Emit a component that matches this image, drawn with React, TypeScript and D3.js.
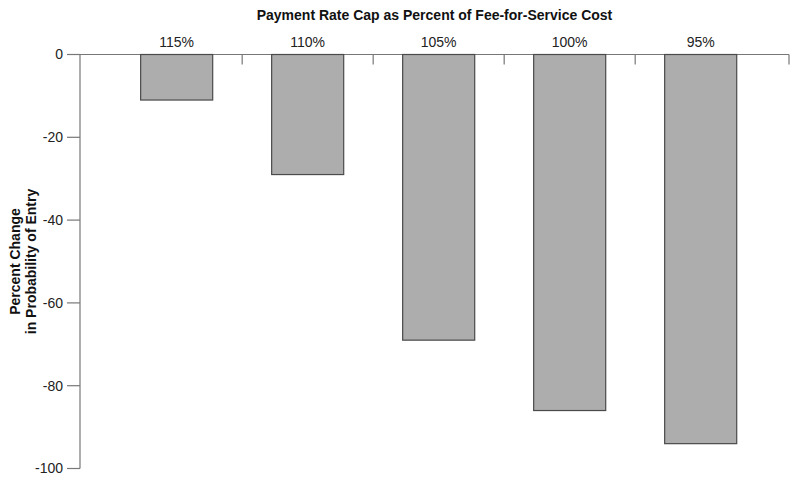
import React, { useEffect, useRef } from 'react'
import * as d3 from 'd3'

const categories = ['115%', '110%', '105%', '100%', '95%']
const values = [-11, -29, -69, -86, -94]
const yTicks = [0, -20, -40, -60, -80, -100]

const W = 797, H = 481
const left = 80, right = 789, top = 54.5, bottom = 468.5
const font = 'Liberation Sans, Arial, Helvetica, sans-serif'

export default function App() {
  const node = useRef<SVGSVGElement>(null)

  useEffect(() => {
    const svg = d3.select(node.current)
    svg.selectAll('*').remove()

    const x = d3.scaleBand<string>()
      .domain(categories)
      .range([left, right])
      .paddingInner(0.45)
      .paddingOuter(0.431)
      .align(0.537)

    const y = d3.scaleLinear().domain([0, -100]).range([top, bottom])

    const axisColor = '#777'

    // y axis
    const yAxis = svg.append('g').attr('transform', `translate(${left},0)`)
    yAxis.append('line')
      .attr('x1', 0).attr('x2', 0).attr('y1', top).attr('y2', bottom)
      .attr('stroke', axisColor).attr('stroke-width', 1.2)
    yAxis.selectAll('g.tick').data(yTicks).enter().append('g')
      .attr('transform', d => `translate(0,${y(d)})`)
      .each(function (d) {
        const g = d3.select(this)
        g.append('line').attr('x1', -13).attr('x2', 0).attr('stroke', axisColor).attr('stroke-width', 1.2)
        g.append('text').attr('x', -17).attr('dy', '0.35em')
          .attr('text-anchor', 'end').attr('font-size', 14).attr('fill', '#222')
          .attr('font-family', font).text(String(d))
      })

    // top x axis
    const step = x.step()
    const bounds = [left, ...categories.slice(1).map(c => x(c)! + x.bandwidth() / 2 - step / 2), right]
    svg.append('line')
      .attr('x1', left).attr('x2', right).attr('y1', top).attr('y2', top)
      .attr('stroke', axisColor).attr('stroke-width', 1.2)
    svg.selectAll('line.xtick').data(bounds.slice(1)).enter().append('line')
      .attr('class', 'xtick')
      .attr('x1', d => d).attr('x2', d => d).attr('y1', top).attr('y2', top + 10)
      .attr('stroke', axisColor).attr('stroke-width', 1.2)
    svg.selectAll('text.xlab').data(categories).enter().append('text')
      .attr('class', 'xlab')
      .attr('x', d => x(d)! + x.bandwidth() / 2).attr('y', 47)
      .attr('text-anchor', 'middle').attr('font-size', 14).attr('fill', '#222')
      .attr('font-family', font).text(d => d)

    // bars
    svg.selectAll('rect.bar').data(values).enter().append('rect')
      .attr('class', 'bar')
      .attr('x', (d, i) => x(categories[i])!)
      .attr('y', y(0))
      .attr('width', x.bandwidth())
      .attr('height', d => y(d) - y(0))
      .attr('fill', '#adadad').attr('stroke', '#4a4a4a').attr('stroke-width', 1.2)

    // titles
    svg.append('text')
      .attr('x', (left + right) / 2).attr('y', 20)
      .attr('text-anchor', 'middle').attr('font-size', 14).attr('font-weight', 'bold')
      .attr('fill', '#111').attr('font-family', font)
      .text('Payment Rate Cap as Percent of Fee-for-Service Cost')

    const yt = svg.append('text')
      .attr('transform', `translate(20,${(top + bottom) / 2}) rotate(-90)`)
      .attr('text-anchor', 'middle').attr('font-size', 14).attr('font-weight', 'bold')
      .attr('fill', '#111').attr('font-family', font)
    yt.append('tspan').attr('x', 0).attr('dy', 0).text('Percent Change')
    yt.append('tspan').attr('x', 0).attr('dy', 16).text('in Probability of Entry')
  }, [])

  return (
    <svg ref={node} width={W} height={H} style={{ position: 'absolute', left: 0, top: 0, background: '#fff' }} />
  )
}
